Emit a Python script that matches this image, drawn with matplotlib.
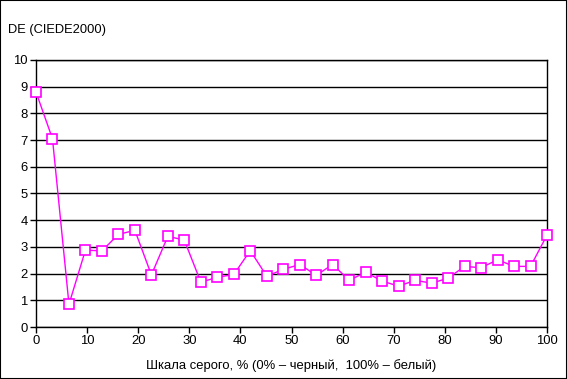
import matplotlib
matplotlib.use("Agg")
import matplotlib.pyplot as plt
from matplotlib.patches import Rectangle

plt.rcParams['font.family'] = ['Liberation Sans', 'DejaVu Sans']

# Шкала серого, % и DE (CIEDE2000)
gray = [i * 100 / 31 for i in range(32)]
de = [8.80, 7.05, 0.85, 2.88, 2.85, 3.47, 3.62, 1.95, 3.40, 3.25,
      1.68, 1.86, 1.97, 2.86, 1.90, 2.16, 2.34, 1.94, 2.34, 1.75,
      2.05, 1.72, 1.53, 1.75, 1.64, 1.83, 2.27, 2.22, 2.52, 2.27,
      2.27, 3.44]

xticks = [0, 10, 20, 30, 40, 50, 60, 70, 80, 90, 100]
yticks = [0, 1, 2, 3, 4, 5, 6, 7, 8, 9, 10]

fig = plt.figure(figsize=(5.67, 3.79), dpi=100)
ax = fig.add_axes([36 / 567, 1 - 327 / 379, 511 / 567, 267 / 379])

ax.plot(gray, de, color='#FF00FF', lw=1, marker='s', ms=7,
        mfc='white', mec='#FF00FF', mew=1.2, clip_on=False, zorder=3)

ax.set_xlim(0, 100)
ax.set_ylim(0, 10)
ax.set_xticks(xticks)
ax.set_yticks(yticks)
ax.grid(axis='y', color='black', lw=1)
ax.set_axisbelow(True)
for s in ax.spines.values():
    s.set_color('black')
    s.set_linewidth(1)
ax.tick_params(labelsize=9.4, length=4, width=1, direction='out', pad=2)

fig.text(8 / 567, 1 - 30 / 379, 'DE (CIEDE2000)', fontsize=9.3, va='center', ha='left')
fig.text(291 / 567, 1 - 366 / 379,
         'Шкала серого, % (0% – черный,  100% – белый)',
         fontsize=9.4, va='center', ha='center')

fig.patches.append(Rectangle((0, 0), 1, 1, transform=fig.transFigure,
                             fill=False, ec='black', lw=1.5))

fig.savefig('out.png', dpi=100)
